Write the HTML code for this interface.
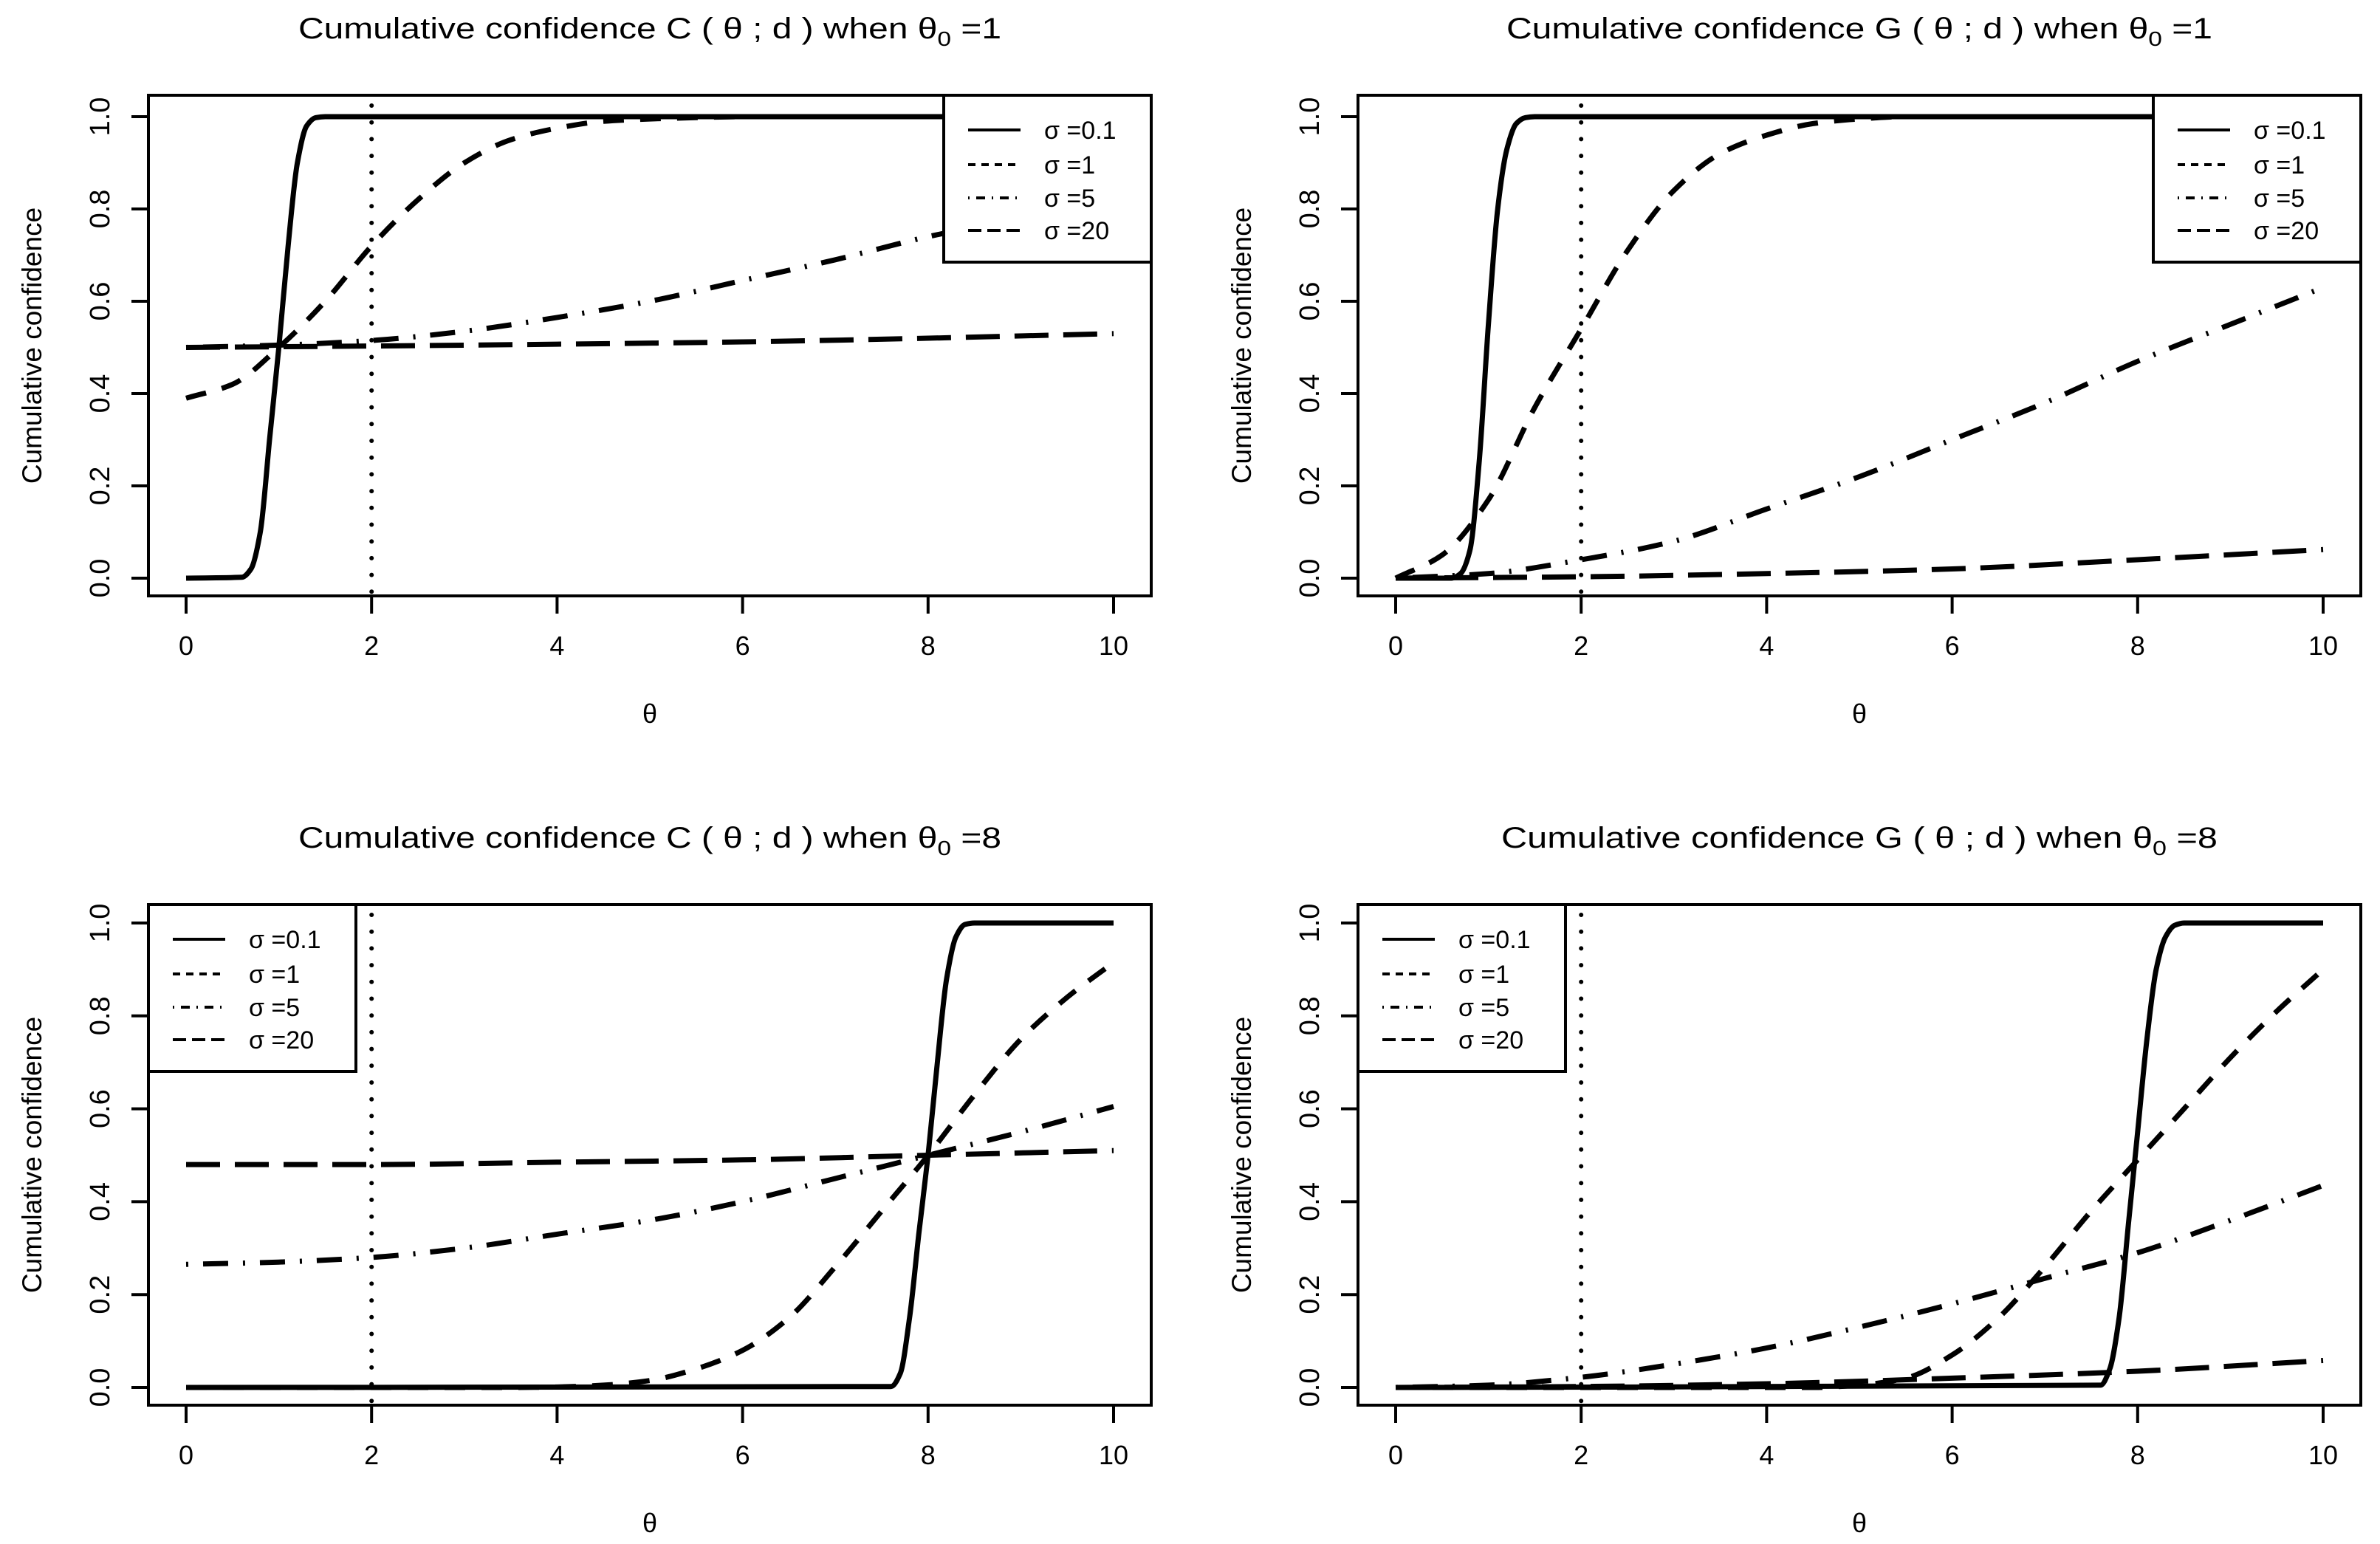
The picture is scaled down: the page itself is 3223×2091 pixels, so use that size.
<!DOCTYPE html>
<html><head><meta charset="utf-8"><style>
html,body{margin:0;padding:0;background:#fff}
svg{display:block}
text{font-family:"Liberation Sans Narrow","Liberation Sans",sans-serif;fill:#000}
.ytl{font-family:"Liberation Sans",sans-serif}
</style></head><body>
<svg id="fig" width="3223" height="2091" viewBox="0 0 3223 2091" xmlns="http://www.w3.org/2000/svg"></svg>
<script>
// ---------- data ----------
const xTicks = [0, 2, 4, 6, 8, 10];
const yTicks = [0, 0.2, 0.4, 0.6, 0.8, 1.0];
const yTickLabels = ["0.0", "0.2", "0.4", "0.6", "0.8", "1.0"];
const legendLabels = ["σ =0.1", "σ =1", "σ =5", "σ =20"];
const sigmaNames = ["sigma-0-1", "sigma-1", "sigma-5", "sigma-20"];
const refTheta = 2;

// shared x grids
const xStep = [0,0.5,1,1.5,2,2.5,3,3.5,4,4.5,5,5.5,6,6.5,7,7.5,8,8.5,9,9.5,10];
const xInt = [0,1,2,3,4,5,6,7,8,9,10];
const xJump1 = [0,0.6,0.7,0.8,0.9,1.0,1.1,1.2,1.3,1.4,1.5,10];
const xJump8 = [0,7.6,7.7,7.8,7.9,8.0,8.1,8.2,8.3,8.4,8.5,10];
const xFlat = [0,2,4,6,8,10];

// Panel 1: C, theta0 = 1
const p1s01 = [0,0.002,0.02,0.1,0.3,0.5,0.72,0.9,0.98,0.998,1,1];
const p1s1  = [0.39,0.42,0.50,0.60,0.72,0.82,0.90,0.95,0.975,0.99,0.995,0.998,1,1,1,1,1,1,1,1,1];
const p1s5  = [0.50,0.505,0.515,0.535,0.565,0.60,0.645,0.69,0.74,0.78,0.82];
const p1s20 = [0.50,0.503,0.507,0.512,0.52,0.53];
// Panel 2: G, theta0 = 1
const p2s01 = [0,0,0.01,0.06,0.25,0.55,0.8,0.93,0.985,0.998,1,1];
const p2s1  = [0,0.05,0.17,0.37,0.54,0.71,0.84,0.92,0.96,0.985,0.995,1,1,1,1,1,1,1,1,1,1];
const p2s5  = [0,0.01,0.04,0.08,0.15,0.22,0.30,0.38,0.47,0.55,0.63];
const p2s20 = [0,0.003,0.01,0.02,0.04,0.062];
// Panel 3: C, theta0 = 8
const p3s01 = [0,0.002,0.03,0.15,0.33,0.5,0.7,0.88,0.97,0.997,1,1];
const p3s1  = [0,0,0,0,0,0,0,0,0.001,0.005,0.015,0.04,0.08,0.15,0.26,0.38,0.5,0.63,0.75,0.84,0.915];
const p3s5  = [0.265,0.27,0.28,0.30,0.33,0.36,0.40,0.45,0.50,0.55,0.605];
const p3s20 = [0.48,0.48,0.485,0.49,0.50,0.51];
// Panel 4: G, theta0 = 8
const p4s01 = [0,0.005,0.04,0.15,0.35,0.55,0.75,0.9,0.97,0.995,1,1];
const p4s1  = [0,0,0,0,0,0,0,0,0,0,0.005,0.02,0.07,0.15,0.26,0.38,0.49,0.6,0.71,0.81,0.9];
const p4s5  = [0,0.005,0.022,0.05,0.085,0.13,0.18,0.235,0.29,0.36,0.435];
const p4s20 = [0,0.002,0.008,0.02,0.035,0.058];

// ---------- rendering ----------
const NS = "http://www.w3.org/2000/svg";
const svg = document.getElementById("fig");
function mk(tag, attrs, parent) {
  const e = document.createElementNS(NS, tag);
  for (const k in attrs) e.setAttribute(k, attrs[k]);
  (parent || svg).appendChild(e);
  return e;
}
const dashes = ["", "28 22", "3 20 34 20", "46 20"];
const legDashes = ["", "10 8", "2 9 12 9", "18 8"];

// monotone cubic (Fritsch-Carlson) path through screen points
function smoothPath(px, py) {
  const n = px.length;
  if (n < 3) return "M" + px.map((x, i) => x.toFixed(1) + " " + py[i].toFixed(1)).join("L");
  const dx = [], m = [], d = [];
  for (let i = 0; i < n - 1; i++) { dx.push(px[i + 1] - px[i]); d.push((py[i + 1] - py[i]) / dx[i]); }
  m.push(d[0]);
  for (let i = 1; i < n - 1; i++) {
    if (d[i - 1] * d[i] <= 0) m.push(0);
    else { const w1 = 2 * dx[i] + dx[i - 1], w2 = dx[i] + 2 * dx[i - 1]; m.push((w1 + w2) / (w1 / d[i - 1] + w2 / d[i])); }
  }
  m.push(d[n - 2]);
  let s = "M" + px[0].toFixed(1) + " " + py[0].toFixed(1);
  for (let i = 0; i < n - 1; i++) {
    const h = dx[i] / 3;
    s += "C" + (px[i] + h).toFixed(1) + " " + (py[i] + m[i] * h).toFixed(1) + " " +
         (px[i + 1] - h).toFixed(1) + " " + (py[i + 1] - m[i + 1] * h).toFixed(1) + " " +
         px[i + 1].toFixed(1) + " " + py[i + 1].toFixed(1);
  }
  return s;
}

function panel(cfg) {
  const g = mk("g", {});
  
  
  const L = cfg.left, T = cfg.top, W = 1358, H = 678;
  const x0 = L + 51, x1 = L + 1307;
  const y0 = T + 654, y1 = T + cfg.y1off;
  const sx = v => x0 + (x1 - x0) * v / 10;
  const sy = v => y0 + (y1 - y0) * v;

  // title
  const t = mk("text", {x: L + W / 2, y: T - 77, "font-size": 40, "text-anchor": "middle", textLength: cfg.titleLen, lengthAdjust: "spacingAndGlyphs"}, g);
  
  
  t.appendChild(document.createTextNode(cfg.title + "  θ"));
  const sub = mk("tspan", {"font-size": 28, dy: 10}, t); sub.textContent = "0";
  const rest = mk("tspan", {dy: -10}, t); rest.textContent = " =" + cfg.t0;

  // curves
  cfg.series.forEach((s, i) => {
    const d = smoothPath(s.x.map(sx), s.y.map(sy));
    const p = mk("path", {d: d, fill: "none", stroke: "#000", "stroke-width": 7, "stroke-linejoin": "round", "stroke-linecap": "butt"}, g);
    if (dashes[i]) p.setAttribute("stroke-dasharray", dashes[i]);
    
    
  });

  // reference dotted line
  const ref = mk("line", {x1: sx(refTheta), x2: sx(refTheta), y1: T + 14, y2: T + H, stroke: "#000", "stroke-width": 6, "stroke-dasharray": "0 22.7", "stroke-linecap": "round"}, g);
  
  

  // legend
  const lg = mk("g", {}, g);
  
  
  const LW = 281, LH = 226;
  const lx = cfg.legendRight ? L + W - LW : L;
  mk("rect", {x: lx, y: T, width: LW, height: LH, fill: "#fff", stroke: "#000", "stroke-width": 4}, lg);
  const ey = [47, 94, 139, 183];
  legendLabels.forEach((lab, i) => {
    const e = mk("g", {}, lg);
    
    
    const ln = mk("line", {x1: lx + 33, x2: lx + 104, y1: T + ey[i], y2: T + ey[i], stroke: "#000", "stroke-width": 4}, e);
    if (legDashes[i]) ln.setAttribute("stroke-dasharray", legDashes[i]);
    const tx = mk("text", {x: lx + 136, y: T + ey[i] + 12, "font-size": 34, class: "ytl"}, e);
    tx.textContent = lab;
  });

  // box
  const box = mk("rect", {x: L, y: T, width: W, height: H, fill: "none", stroke: "#000", "stroke-width": 4}, g);
  
  

  // x axis
  const xa = mk("g", {}, g);
  
  
  mk("line", {x1: sx(0), x2: sx(10), y1: T + H, y2: T + H, stroke: "#000", "stroke-width": 4}, xa);
  xTicks.forEach(v => {
    mk("line", {x1: sx(v), x2: sx(v), y1: T + H, y2: T + H + 24, stroke: "#000", "stroke-width": 4}, xa);
    const tl = mk("text", {x: sx(v), y: T + H + 80, "font-size": 36, "text-anchor": "middle"}, xa);
    tl.textContent = String(v);
  });
  const xt = mk("text", {x: L + W / 2, y: T + H + 172, "font-size": 36, "text-anchor": "middle", class: "ytl"}, g);
  
  
  xt.textContent = "θ";

  // y axis
  const ya = mk("g", {}, g);
  
  
  mk("line", {x1: L, x2: L, y1: sy(0), y2: sy(1), stroke: "#000", "stroke-width": 4}, ya);
  yTicks.forEach((v, i) => {
    mk("line", {x1: L, x2: L - 23, y1: sy(v), y2: sy(v), stroke: "#000", "stroke-width": 4}, ya);
    const cx = L - 66, cy = sy(v);
    const tl = mk("text", {x: cx, y: cy, "font-size": 38, "text-anchor": "middle", class: "ytl", transform: `rotate(-90 ${cx} ${cy}) translate(0 13)`}, ya);
    tl.textContent = yTickLabels[i];
  });
  const ax = L - 158, ay = T + H / 2;
  const yt = mk("text", {x: ax, y: ay, "font-size": 37, "text-anchor": "middle", class: "ytl", transform: `rotate(-90 ${ax} ${ay}) translate(0 13)`}, g);
  
  
  yt.textContent = "Cumulative confidence";
}

panel({name: "panel-c-theta0-1", left: 201, top: 129, y1off: 29, title: "Cumulative confidence  C (  θ  ; d )  when ", t0: 1, titleLen: 952, legendRight: true,
  series: [{x: xJump1, y: p1s01}, {x: xStep, y: p1s1}, {x: xInt, y: p1s5}, {x: xFlat, y: p1s20}]});
panel({name: "panel-g-theta0-1", left: 1839, top: 129, y1off: 29, title: "Cumulative confidence  G (  θ  ; d )  when ", t0: 1, titleLen: 956, legendRight: true,
  series: [{x: xJump1, y: p2s01}, {x: xStep, y: p2s1}, {x: xInt, y: p2s5}, {x: xFlat, y: p2s20}]});
panel({name: "panel-c-theta0-8", left: 201, top: 1225, y1off: 25, title: "Cumulative confidence  C (  θ  ; d )  when ", t0: 8, titleLen: 952, legendRight: false,
  series: [{x: xJump8, y: p3s01}, {x: xStep, y: p3s1}, {x: xInt, y: p3s5}, {x: xFlat, y: p3s20}]});
panel({name: "panel-g-theta0-8", left: 1839, top: 1225, y1off: 25, title: "Cumulative confidence  G (  θ  ; d )   when ", t0: 8, titleLen: 970, legendRight: false,
  series: [{x: xJump8, y: p4s01}, {x: xStep, y: p4s1}, {x: xInt, y: p4s5}, {x: xFlat, y: p4s20}]});
</script>
</body></html>
